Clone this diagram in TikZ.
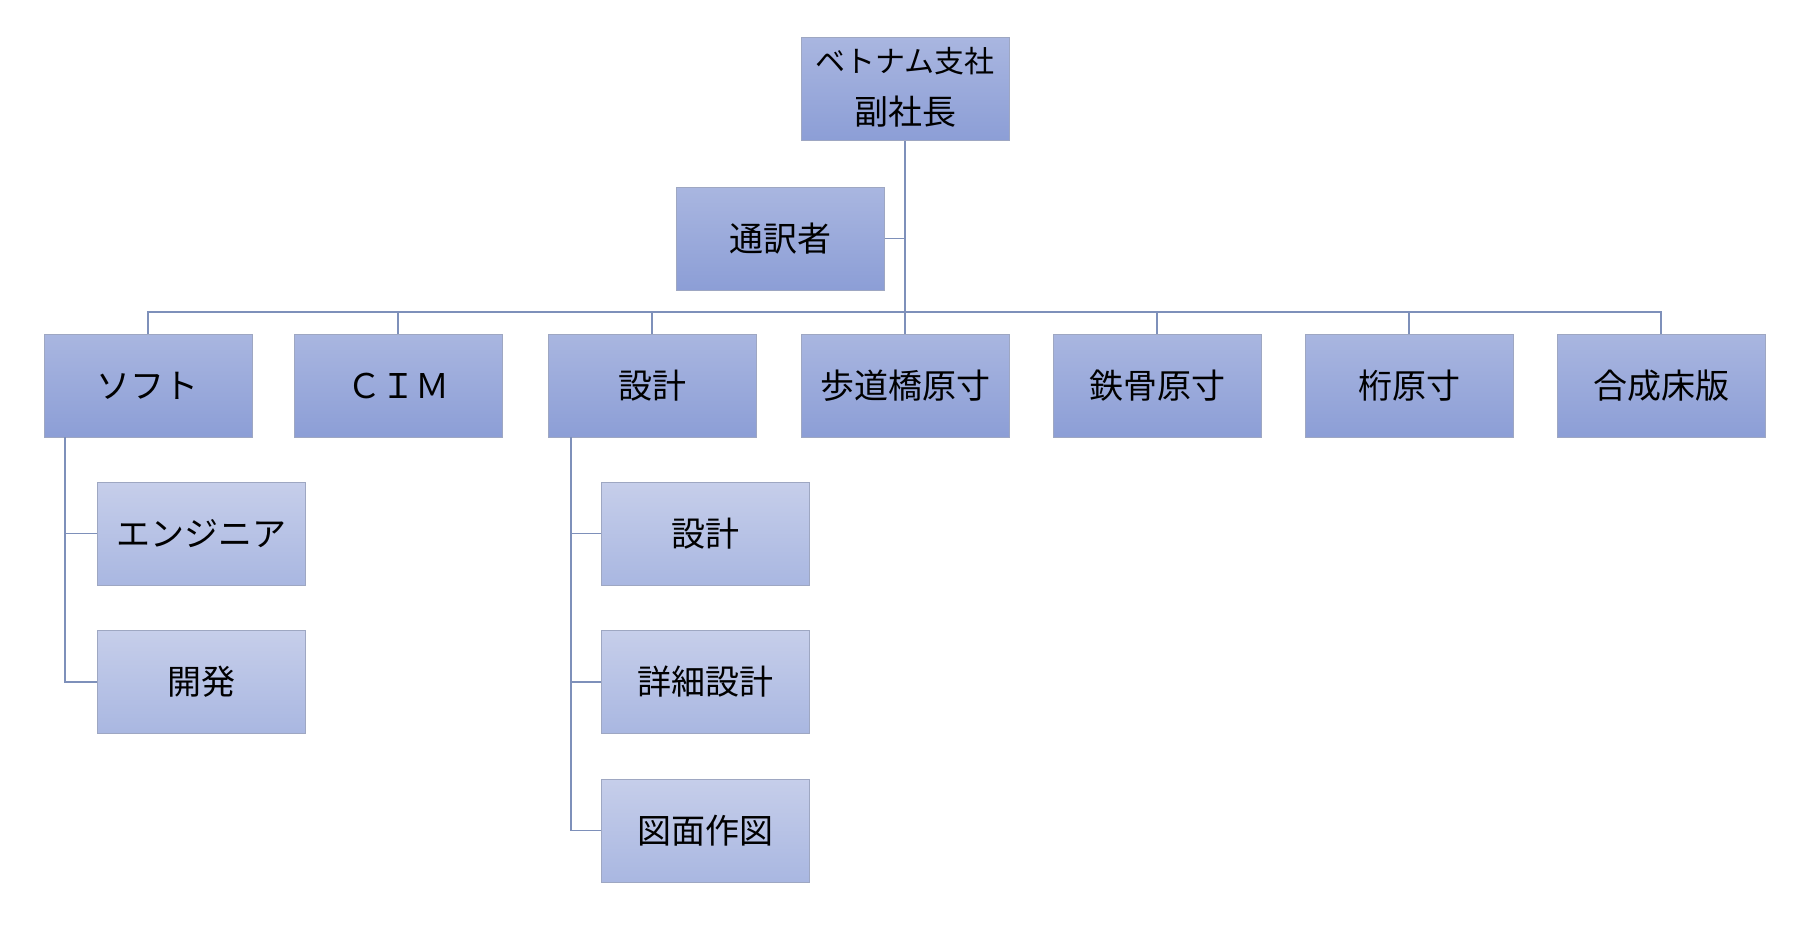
\documentclass[tikz,border=0pt]{standalone}
\usepackage{fontspec}
\setmainfont{Noto Sans CJK JP}
\definecolor{mtop}{HTML}{A9B6E0}
\definecolor{mbot}{HTML}{8C9ED6}
\definecolor{stop}{HTML}{C6CEEA}
\definecolor{sbot}{HTML}{A9B7E1}
\definecolor{bord}{HTML}{9EA7C2}
\definecolor{lnc}{HTML}{7E90BA}
\tikzset{
  mainbox/.style={draw=bord,line width=0.5pt,top color=mtop,bottom color=mbot,shading angle=0,
    minimum width=104pt,minimum height=51.5pt,inner sep=0pt,align=center,
    font=\fontsize{17pt}{20pt}\selectfont},
  subbox/.style={mainbox,top color=stop,bottom color=sbot},
  conn/.style={draw=lnc,line width=0.6pt}
}
\begin{document}
\begin{tikzpicture}[x=0.5pt,y=-0.5pt]
\useasboundingbox[fill=white] (0,0) rectangle (1812,928);
% top
\node[mainbox] (top) at (905,89) {};
\node[font=\fontsize{15pt}{18pt}\selectfont,inner sep=0pt] (topa) at (905,61) {ベトナム支社};
\node[font=\fontsize{17pt}{20pt}\selectfont,inner sep=0pt] (topb) at (905,112) {副社長};
\node[mainbox] (tsu) at (780,238.5) {通訳者};
\coordinate (bus) at (905,312);
% row 2
\node[mainbox] (soft) at (148,385.5) {ソフト};
\node[mainbox] (cim) at (398,385.5) {ＣＩＭ};
\node[mainbox] (sek) at (652,385.5) {設計};
\node[mainbox] (hod) at (905,385.5) {歩道橋原寸};
\node[mainbox] (tek) at (1157,385.5) {鉄骨原寸};
\node[mainbox] (ket) at (1409,385.5) {桁原寸};
\node[mainbox] (gos) at (1661,385.5) {合成床版};
% children
\node[subbox] (eng) at (201,533.5) {エンジニア};
\node[subbox] (kai) at (201,682) {開発};
\node[subbox] (sk2) at (705,533.5) {設計};
\node[subbox] (sho) at (705,682) {詳細設計};
\node[subbox] (zum) at (705,830.5) {図面作図};
\coordinate (sl) at (65,437);
\coordinate (kl) at (571,437);
% connectors
\draw[conn] (top.south) -- (bus);
\draw[conn] (tsu.east) -- (tsu.east -| top.south);
\foreach \n in {soft,cim,sek,hod,tek,ket,gos}{\draw[conn] (bus) -| (\n.north);}
\draw[conn] (sl) |- (eng.west);
\draw[conn] (sl) |- (kai.west);
\draw[conn] (kl) |- (sk2.west);
\draw[conn] (kl) |- (sho.west);
\draw[conn] (kl) |- (zum.west);
\end{tikzpicture}
\end{document}
